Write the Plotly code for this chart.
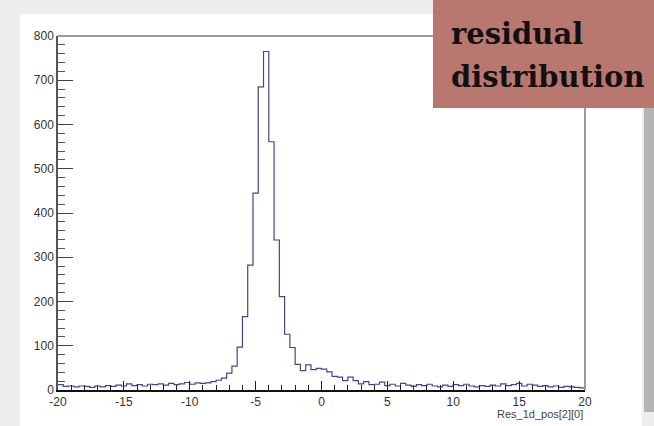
import plotly.graph_objects as go

# ---- data (100 bins of width 0.4 from -20 to 20) ----
bin_edges_left = [round(-20 + 0.4 * i, 1) for i in range(100)]
counts = [
    12, 8, 9, 7, 9, 8, 6, 9, 7, 10,
    8, 11, 9, 14, 10, 12, 9, 13, 12, 14,
    11, 15, 12, 14, 17, 13, 16, 15, 16, 19,
    22, 27, 38, 54, 97, 166, 282, 445, 685, 765,
    561, 339, 211, 126, 96, 58, 44, 57, 46, 49,
    47, 41, 31, 29, 21, 29, 21, 14, 19, 12,
    13, 18, 10, 13, 9, 15, 11, 8, 12, 10,
    13, 9, 7, 11, 8, 12, 10, 13, 9, 7,
    10, 8, 11, 9, 14, 10, 12, 15, 9, 13,
    11, 8, 10, 7, 9, 6, 8, 7, 6, 5,
]
assert len(counts) == len(bin_edges_left)
x_ticks = [-20, -15, -10, -5, 0, 5, 10, 15, 20]
y_ticks = [0, 100, 200, 300, 400, 500, 600, 700, 800]
x_title = "Res_1d_pos[2][0]"
label_lines = ["residual", "distribution"]

W, H = 654, 426
L, R, T, B = 58, 585, 36, 390


def px(xp):
    return (xp - L) / (R - L)


def py(yp):
    return (B - yp) / (B - T)


xs = bin_edges_left + [20.0]
ys = counts + [counts[-1]]

fig = go.Figure()
fig.add_trace(go.Scatter(
    x=xs, y=ys, mode="lines", line_shape="hv",
    line=dict(color="#45458f", width=1.2), hoverinfo="skip", showlegend=False,
))

shapes = [
    # slide background pieces
    dict(type="rect", xref="paper", yref="paper", x0=px(0), x1=px(W), y0=py(H), y1=py(0),
         fillcolor="#eeeeee", line_width=0, layer="below"),
    dict(type="rect", xref="paper", yref="paper", x0=px(20), x1=px(642), y0=py(H), y1=py(14),
         fillcolor="#ffffff", line_width=0, layer="below"),
    dict(type="rect", xref="paper", yref="paper", x0=px(644), x1=px(W), y0=py(412), y1=py(105),
         fillcolor="#b4b4b4", line_width=0, layer="below"),
    # frame top and right
    dict(type="line", xref="paper", yref="paper", x0=0, x1=1, y0=1, y1=1,
         line=dict(color="#9a9a9a", width=2), layer="above"),
    dict(type="line", xref="paper", yref="paper", x0=1, x1=1, y0=0, y1=1,
         line=dict(color="#9a9a9a", width=2), layer="above"),
    # label box
    dict(type="rect", xref="paper", yref="paper", x0=px(433), x1=px(W + 2), y0=py(108), y1=py(-2),
         fillcolor="#b9786f", line_width=0, layer="above"),
]

annotations = [
    dict(xref="paper", yref="paper", x=px(449), y=py(53), xanchor="left", yanchor="bottom",
         text="<b>" + label_lines[0] + "</b>", showarrow=False,
         font=dict(family="DejaVu Serif", size=29, color="#111111")),
    dict(xref="paper", yref="paper", x=px(449), y=py(96), xanchor="left", yanchor="bottom",
         text="<b>" + label_lines[1] + "</b>", showarrow=False,
         font=dict(family="DejaVu Serif", size=29, color="#111111")),
    dict(xref="paper", yref="paper", x=1, y=py(414), xanchor="right", yanchor="middle",
         text=x_title, showarrow=False,
         font=dict(family="Liberation Sans", size=11, color="#444444")),
]

fig.update_layout(
    width=W, height=H,
    margin=dict(l=L, r=W - R, t=T, b=H - B, pad=0),
    paper_bgcolor="#ffffff", plot_bgcolor="rgba(0,0,0,0)",
    shapes=shapes, annotations=annotations,
    font=dict(family="Liberation Sans", size=12, color="#333333"),
)
fig.update_xaxes(
    range=[-20, 20], tickvals=x_ticks, ticktext=[str(v) for v in x_ticks],
    ticks="inside", ticklen=9, tickwidth=1, tickcolor="#222222",
    minor=dict(dtick=1, ticks="inside", ticklen=5, tickcolor="#222222"),
    showline=True, linecolor="#111111", linewidth=2, showgrid=False, zeroline=False,
    tickfont=dict(size=12, color="#333333"),
)
fig.update_yaxes(
    range=[0, 800], tickvals=y_ticks, ticktext=[str(v) for v in y_ticks],
    ticks="inside", ticklen=15, tickwidth=1, tickcolor="#444444",
    minor=dict(dtick=20, ticks="inside", ticklen=7, tickcolor="#555555"),
    showline=True, linecolor="#555555", linewidth=1.5, showgrid=False, zeroline=False,
    tickfont=dict(size=12, color="#333333"),
)

fig.write_html("out.html", config={"displayModeBar": False},
               post_script="document.body.style.margin='0';")
